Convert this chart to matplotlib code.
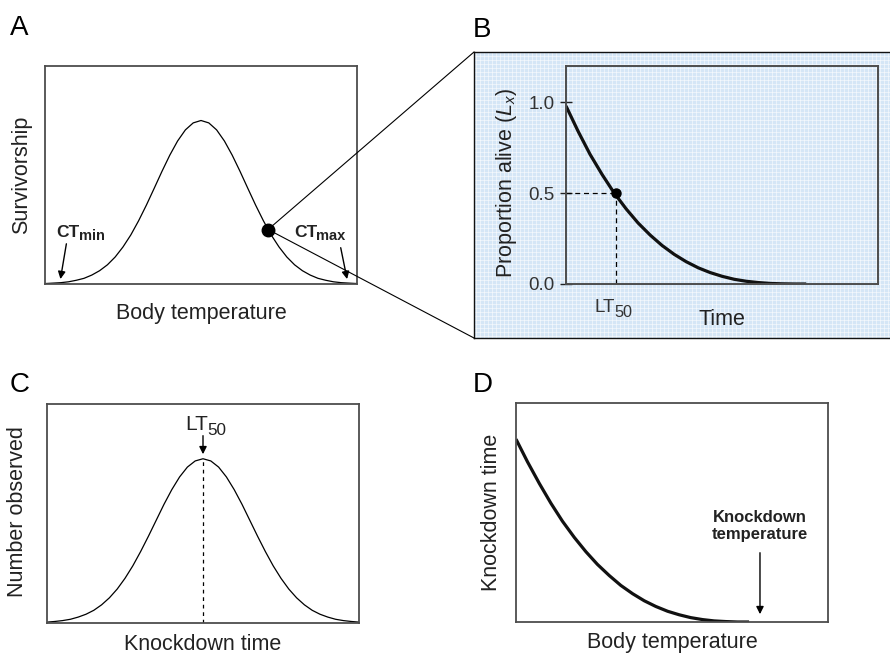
import numpy as np
import matplotlib.pyplot as plt
from matplotlib.patches import ConnectionPatch

plt.rcParams['font.family'] = ['Liberation Sans', 'DejaVu Sans']
plt.rcParams['mathtext.fontset'] = 'custom'
plt.rcParams['mathtext.rm'] = 'Liberation Sans'
plt.rcParams['mathtext.it'] = 'Liberation Sans:italic'
plt.rcParams['mathtext.bf'] = 'Liberation Sans:bold'

# --- values (each panel on a 0..1 axis) ---
# A: survivorship vs body temperature
surv_x = [0.000, 0.025, 0.050, 0.075, 0.100, 0.125, 0.150, 0.175, 0.200, 0.225,
          0.250, 0.275, 0.300, 0.325, 0.350, 0.375, 0.400, 0.425, 0.450, 0.475,
          0.500, 0.525, 0.550, 0.575, 0.600, 0.625, 0.650, 0.675, 0.700, 0.725,
          0.750, 0.775, 0.800, 0.825, 0.850, 0.875, 0.900, 0.925, 0.950, 0.975, 1.000]
surv_y = [0.002, 0.004, 0.006, 0.010, 0.017, 0.026, 0.041, 0.061, 0.088, 0.124,
          0.170, 0.225, 0.290, 0.362, 0.439, 0.517, 0.591, 0.656, 0.707, 0.739,
          0.750, 0.739, 0.707, 0.656, 0.591, 0.517, 0.439, 0.362, 0.290, 0.225,
          0.170, 0.124, 0.088, 0.061, 0.041, 0.026, 0.017, 0.010, 0.006, 0.004, 0.002]
zoom_pt = (0.715, 0.25)
ctmin_arrow = [(0.070, 0.197), (0.048, 0.010)]
ctmax_arrow = [(0.946, 0.179), (0.970, 0.010)]

# B: proportion alive vs time
alive_x = [0.000, 0.039, 0.077, 0.116, 0.154, 0.193, 0.231, 0.270, 0.308, 0.347,
           0.385, 0.424, 0.462, 0.501, 0.539, 0.578, 0.616, 0.655, 0.693, 0.732, 0.770]
alive_y = [0.980, 0.840, 0.714, 0.602, 0.502, 0.413, 0.336, 0.269, 0.212, 0.163,
           0.123, 0.089, 0.063, 0.042, 0.026, 0.015, 0.008, 0.003, 0.001, 0.000, 0.000]
lt50_x, lt50_y = 0.16, 0.5
b_yticks = [0.0, 0.5, 1.0]
b_yticklabels = ['0.0', '0.5', '1.0']

# C: number observed vs knockdown time
num_x = surv_x
num_y = [0.004, 0.007, 0.011, 0.017, 0.027, 0.040, 0.058, 0.083, 0.115, 0.155,
         0.204, 0.261, 0.326, 0.396, 0.469, 0.542, 0.609, 0.667, 0.712, 0.740,
         0.750, 0.740, 0.712, 0.667, 0.609, 0.542, 0.469, 0.396, 0.326, 0.261,
         0.204, 0.155, 0.115, 0.083, 0.058, 0.040, 0.027, 0.017, 0.011, 0.007, 0.004]
c_peak = (0.5, 0.75)

# D: knockdown time vs body temperature
kd_x = [0.000, 0.037, 0.075, 0.112, 0.149, 0.187, 0.224, 0.261, 0.299, 0.336,
        0.374, 0.411, 0.448, 0.486, 0.523, 0.560, 0.598, 0.635, 0.672, 0.710, 0.747]
kd_y = [0.835, 0.731, 0.632, 0.542, 0.460, 0.386, 0.321, 0.263, 0.212, 0.167,
        0.129, 0.097, 0.071, 0.049, 0.033, 0.020, 0.011, 0.005, 0.002, 0.000, 0.000]
kd_temp_x = 0.782

W, H = 890, 655
fig = plt.figure(figsize=(W / 100, H / 100), dpi=100)
TXT = '#222222'
SPINE = '#4d4d4d'
LFS = 15.5


def box(px_left, px_top, px_w, px_h):
    return [px_left / W, 1 - (px_top + px_h) / H, px_w / W, px_h / H]


def plain(ax):
    ax.set_xlim(0, 1)
    ax.set_ylim(0, 1)
    ax.set_xticks([])
    ax.set_yticks([])
    for s in ax.spines.values():
        s.set_color(SPINE)
        s.set_linewidth(1.3)


def subtext(ax, x, y, main, sub, size, subsize, weight='normal', color=TXT, drop=-2.0):
    # main text ends at x; subscript follows, a bit lower
    t = ax.text(x, y, main, transform=ax.transAxes, fontsize=size, fontweight=weight,
                color=color, ha='right', va='baseline')
    ax.annotate(sub, xy=(x, y), xycoords=ax.transAxes, xytext=(-0.6, drop),
                textcoords='offset points', fontsize=subsize, fontweight=weight,
                color=color, ha='left', va='baseline')
    return t


# blue grid-paper background for B
bg = fig.add_axes(box(474, 52, 420, 286))
bg.set_facecolor('#d5e6f6')
bg.set_xlim(0, 420)
bg.set_ylim(0, 286)
bg.vlines(np.arange(2, 420, 4), 0, 286, color='white', lw=0.6, alpha=0.6)
bg.hlines(np.arange(2, 286, 4), 0, 420, color='white', lw=0.6, alpha=0.6)
bg.set_xticks([])
bg.set_yticks([])
bg.spines['right'].set_visible(False)
for s in ['left', 'top', 'bottom']:
    bg.spines[s].set_color('#111111')
    bg.spines[s].set_linewidth(1.0)

# ---- A ----
axA = fig.add_axes(box(45, 66, 312, 218))
plain(axA)
axA.plot(surv_x, surv_y, color='black', lw=0.9)
axA.plot(*zoom_pt, 'o', color='black', ms=9, zorder=5, clip_on=False)
# CT baseline at pixel y 237
subtext(axA, 0.112, (284 - 237) / 218, 'CT', 'min', 12.5, 10.5, weight='bold', drop=-2.2)
subtext(axA, 0.872, (284 - 237) / 218, 'CT', 'max', 12.5, 10.5, weight='bold', drop=-2.2)
for start, end in [ctmin_arrow, ctmax_arrow]:
    axA.annotate('', xy=end, xytext=start,
                 arrowprops=dict(arrowstyle='-|>', color='black', lw=1, mutation_scale=11))
axA.set_xlabel('Body temperature', fontsize=LFS, color=TXT)
axA.set_ylabel('Survivorship', fontsize=LFS, color=TXT)
axA.xaxis.set_label_coords(0.5, -0.087)
axA.yaxis.set_label_coords(-0.04, 0.5)

# ---- B ----
axB = fig.add_axes(box(566, 66, 312, 218))
axB.set_facecolor('none')
axB.set_xlim(0, 1)
axB.set_ylim(0, 1.2)
for s in axB.spines.values():
    s.set_color(SPINE)
    s.set_linewidth(1.4)
axB.plot(alive_x, alive_y, color='#111111', lw=2.3, solid_capstyle='butt')
axB.plot([0, lt50_x], [lt50_y, lt50_y], color='black', lw=0.9, ls=(0, (4, 3)))
axB.plot([lt50_x, lt50_x], [0, lt50_y], color='black', lw=0.9, ls=(0, (4, 3)))
axB.plot(lt50_x, lt50_y, 'o', color='black', ms=6.5, zorder=5)
axB.set_yticks(b_yticks)
axB.set_yticklabels(b_yticklabels)
axB.set_xticks([])
axB.tick_params(axis='y', direction='inout', length=8, width=1, color='#222222',
                labelsize=13.5, labelcolor='#333333', pad=4)
# LT baseline at pixel y 312
subtext(axB, 0.157, -(312 - 284) / 218, 'LT', '50', 13.5, 11.7, color='#333333', drop=-3.5)
axB.set_xlabel('Time', fontsize=LFS, color=TXT)
axB.set_ylabel('Proportion alive ($L_x$)', fontsize=LFS, color=TXT)
axB.xaxis.set_label_coords(0.5, -0.115)
axB.yaxis.set_label_coords(-0.15, 0.463)

# zoom lines from A's point to B's panel corners
for corner in [(0, 1), (0, 0)]:
    con = ConnectionPatch(xyA=zoom_pt, coordsA=axA.transData,
                          xyB=corner, coordsB=bg.transAxes,
                          color='black', lw=0.8)
    fig.add_artist(con)

# ---- C ----
axC = fig.add_axes(box(47, 404, 312, 219))
plain(axC)
axC.plot(num_x, num_y, color='black', lw=0.9)
axC.plot([c_peak[0], c_peak[0]], [0, c_peak[1]], color='black', lw=0.9, ls=(0, (3, 3)))
# LT baseline at pixel y 430
subtext(axC, 0.516, (623 - 430) / 219, 'LT', '50', 15, 12.3, drop=-3.5)
axC.annotate('', xy=(c_peak[0], 0.758), xytext=(c_peak[0], 0.868),
             arrowprops=dict(arrowstyle='-|>', color='black', lw=1, mutation_scale=11))
axC.set_xlabel('Knockdown time', fontsize=LFS, color=TXT)
axC.set_ylabel('Number observed', fontsize=LFS, color=TXT)
axC.xaxis.set_label_coords(0.5, -0.05)
axC.yaxis.set_label_coords(-0.061, 0.507)

# ---- D ----
axD = fig.add_axes(box(516, 403, 312, 219))
plain(axD)
axD.plot(kd_x, kd_y, color='#111111', lw=2.3, solid_capstyle='butt')
axD.text(kd_temp_x, 0.438, 'Knockdown\ntemperature', fontsize=12, fontweight='bold',
         color=TXT, ha='center', va='center', linespacing=1.2)
axD.annotate('', xy=(kd_temp_x, 0.023), xytext=(kd_temp_x, 0.329),
             arrowprops=dict(arrowstyle='-|>', color='black', lw=1, mutation_scale=11))
axD.set_xlabel('Body temperature', fontsize=LFS, color=TXT)
axD.set_ylabel('Knockdown time', fontsize=LFS, color=TXT)
axD.xaxis.set_label_coords(0.5, -0.047)
axD.yaxis.set_label_coords(-0.045, 0.502)

# panel letters
for letter, px, py in [('A', 10, 28), ('B', 473, 30), ('C', 10, 385), ('D', 473, 385)]:
    fig.text(px / W, 1 - py / H, letter, fontsize=20, color='black', va='center')

fig.savefig('out.png', dpi=100)
